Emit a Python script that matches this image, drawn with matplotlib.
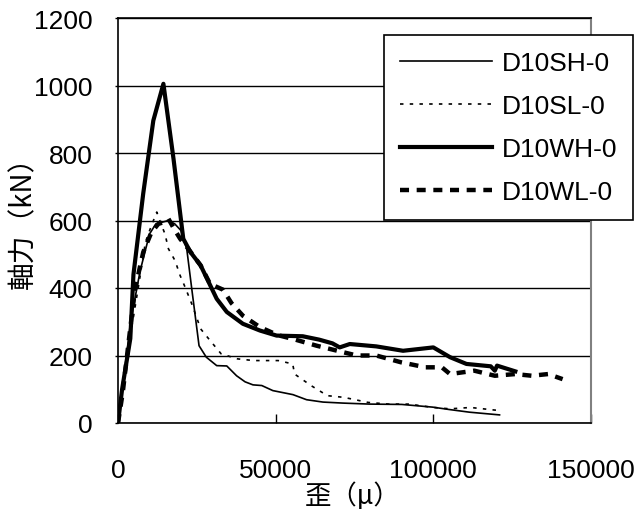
import numpy as np
import matplotlib
matplotlib.use("Agg")
import matplotlib.pyplot as plt

plt.rcParams['font.family'] = ['Liberation Sans', 'Noto Sans CJK JP', 'DejaVu Sans']
plt.rcParams['lines.scale_dashes'] = False

# strain (in 1000 micro) / axial force (kN)
sh_x = [0, 1.5, 4, 7, 10, 12, 14, 16, 18, 20, 21.8, 23.4, 25.7, 28, 31.3, 34.5, 37.6, 40.3,
        42.8, 45.6, 49.1, 55.5, 59.8, 65, 71.3, 79.8, 90, 99.8, 105, 111.5, 121]
sh_y = [0, 110, 300, 450, 560, 590, 595, 600, 590, 570, 516, 397, 229, 195, 170, 169, 140, 122,
        113, 111, 96, 84, 69, 62, 59, 56, 55, 47, 40, 32, 24]

sl_x = [0, 1.6, 4.1, 6.7, 8.7, 10.6, 12.3, 13.4, 14.9, 16, 18.1, 19.7, 21.3, 23.6, 26.2, 28.8,
        32.7, 37.9, 43, 50.8, 55.4, 56, 61.2, 66.4, 71.6, 79.3, 85.8, 92.3, 100, 105.3, 111.8, 120.8]
sl_y = [0, 121, 269, 417, 536, 585, 625, 596, 560, 516, 481, 437, 402, 348, 279, 249,
        205, 190, 185, 185, 175, 145, 111, 81, 76, 61, 56, 56, 46, 42, 46, 37]

wh_x = [0, 1.3, 3.9, 4.9, 8, 11.2, 14.4, 17.6, 20.7, 23, 26.2, 31.3, 34.5, 39.6, 45, 50.3,
        58.6, 63.8, 68, 70.3, 73.5, 81.9, 90.4, 100, 105.3, 110.5, 118.2, 119.5, 120.2, 126]
wh_y = [0, 100, 250, 440, 680, 896, 1005, 783, 546, 506, 467, 368, 329, 294, 274, 259,
        257, 247, 236, 224, 234, 227, 214, 224, 195, 175, 168, 155, 170, 153]

wl_x = [0, 1.5, 3.5, 5.4, 8, 10.6, 12.8, 14.5, 16, 17.8, 19.7, 22.3, 26.2, 29.2, 33.3, 36,
        39.6, 45, 50.8, 55.5, 63, 71.3, 75.7, 81.9, 89.7, 97.5, 102.7, 105.3, 113, 119.5,
        126, 131.2, 136.4, 141]
wl_y = [0, 90, 250, 397, 506, 565, 590, 595, 605, 575, 546, 516, 467, 412, 395, 355,
        318, 284, 260, 249, 229, 210, 200, 200, 180, 165, 165, 145, 155, 140,
        145, 140, 145, 130]

labels = ['D10SH-0', 'D10SL-0', 'D10WH-0', 'D10WL-0']
x_ticks = [0, 50000, 100000, 150000]
y_ticks = [0, 200, 400, 600, 800, 1000, 1200]

fig = plt.figure(figsize=(6.41, 5.10), dpi=100)
ax = fig.add_axes([118 / 641, 86 / 510, 473 / 641, 405 / 510])

ax.plot(np.array(sh_x) * 1000, sh_y, color='black', lw=1.2, label=labels[0])
ax.plot(np.array(sl_x) * 1000, sl_y, color='black', lw=1.2, dashes=(2.5, 4.5), label=labels[1])
ax.plot(np.array(wh_x) * 1000, wh_y, color='black', lw=3.0, label=labels[2])
ax.plot(np.array(wl_x) * 1000, wl_y, color='black', lw=3.2, dashes=(6.5, 5.5), label=labels[3])

ax.set_xlim(0, 150000)
ax.set_ylim(0, 1200)
ax.set_xticks(x_ticks)
ax.set_xticklabels([str(v) for v in x_ticks])
ax.set_yticks(y_ticks)
ax.set_yticklabels([str(v) for v in y_ticks])
ax.grid(axis='y', color='black', lw=1)
ax.set_axisbelow(True)

ax.tick_params(axis='x', direction='in', length=6.5, width=1, pad=25, labelsize=19)
ax.tick_params(axis='y', direction='out', length=2, width=1, pad=16.5, labelsize=19)
for s in ['left', 'bottom', 'top']:
    ax.spines[s].set_color('black')
    ax.spines[s].set_linewidth(1.2)
ax.spines['right'].set_color('#808080')
ax.spines['right'].set_linewidth(1.5)

ax.set_xlabel('歪（μ）', family=['Noto Sans CJK JP', 'DejaVu Sans'], fontsize=19, va='center')
ax.xaxis.set_label_coords(0.495, -0.178)
ax.set_ylabel('軸力（kN）', family=['Noto Sans CJK JP', 'DejaVu Sans'], fontsize=20, va='center')
ax.yaxis.set_label_coords(-0.2, 0.515)

leg = fig.legend(loc='upper left', bbox_to_anchor=(384 / 641, 1 - 36 / 510),
                 fontsize=19, frameon=True, fancybox=False, framealpha=1,
                 edgecolor='black', handlelength=3.5, handletextpad=0.35,
                 borderpad=0.6, labelspacing=0.72, borderaxespad=0)
leg.get_frame().set_linewidth(1.2)

fig.savefig('out.png', dpi=100)
